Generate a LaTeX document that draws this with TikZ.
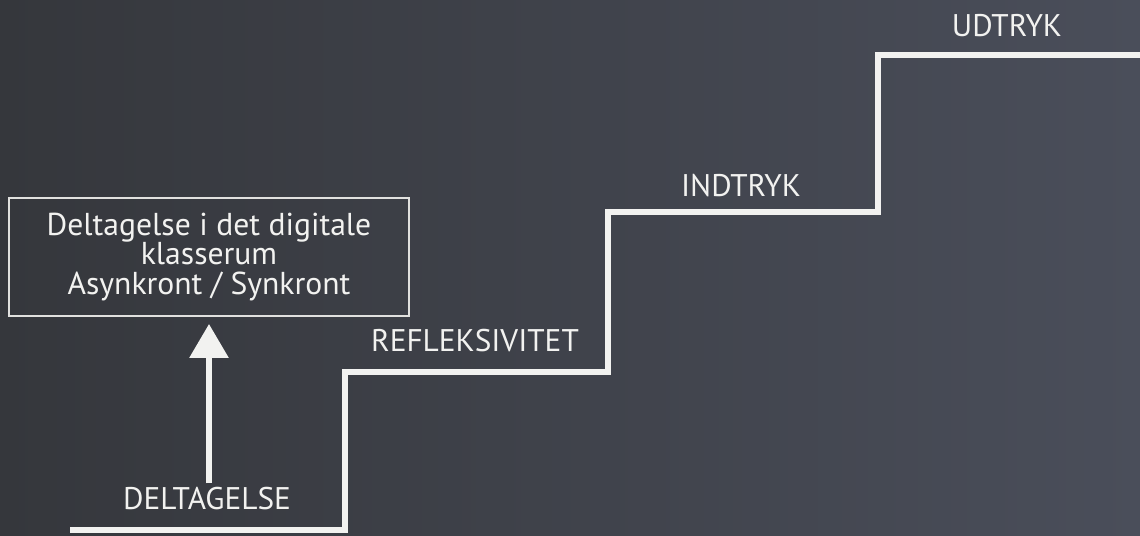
\documentclass[tikz,border=0pt]{standalone}
\usepackage{fontspec}
\setmainfont{PT Sans}
\usepackage{tikz}
\usetikzlibrary{positioning,arrows.meta,decorations.pathmorphing}

\definecolor{boardleft}{HTML}{35373C}
\definecolor{boardright}{HTML}{4A4E5A}
\definecolor{chalkwhite}{HTML}{F2F2F0}

\begin{document}
\begin{tikzpicture}[
    x=0.01cm, y=-0.01cm,
    chalk/.style={
      draw=chalkwhite,
      line width=0.06cm,
      line join=miter,
      },
    chalkarrow/.style={
      chalk,
      -{Triangle[length=0.34cm,width=0.38cm]},
      },
    framebox/.style={
      draw=chalkwhite!85!gray,
      line width=0.5pt,
      text=chalkwhite,
      align=center,
      minimum width=4cm,
      minimum height=1.18cm,
      font=\fontsize{9}{8.4}\selectfont
      },
    steplabel/.style={
      text=chalkwhite,
      inner sep=1pt,
      font=\fontsize{8.9}{10}\selectfont
      }
    ]
    % board
    \shade[left color=boardleft, right color=boardright] (0,0) rectangle (1140,535);
    \useasboundingbox (0,0) rectangle (1140,535);

    % staircase corners
    \coordinate (s0) at (70,530);
    \coordinate (s1) at (345,372);
    \coordinate (s2) at (608,212);
    \coordinate (s3) at (878,55);
    \coordinate (s4) at (1140,55);
    \draw[chalk] (s0) -| (s1) -| (s2) -| (s3) -- (s4);

    % labels on the treads
    \node[steplabel] (deltagelse) at (207,499) {DELTAGELSE};
    \node[steplabel] (refleks) at (475,341) {REFLEKSIVITET};
    \node[steplabel] (indtryk) at (741,186) {INDTRYK};
    \node[steplabel] (udtryk) at (1007,26) {UDTRYK};

    \node[framebox] (box) at (209,257)
      {Deltagelse i det digitale\\klasserum\\Asynkront / Synkront};

    \draw[chalkarrow, shorten >=0.07cm] (deltagelse.north -| box.south) -- (box.south);
\end{tikzpicture}
\end{document}
